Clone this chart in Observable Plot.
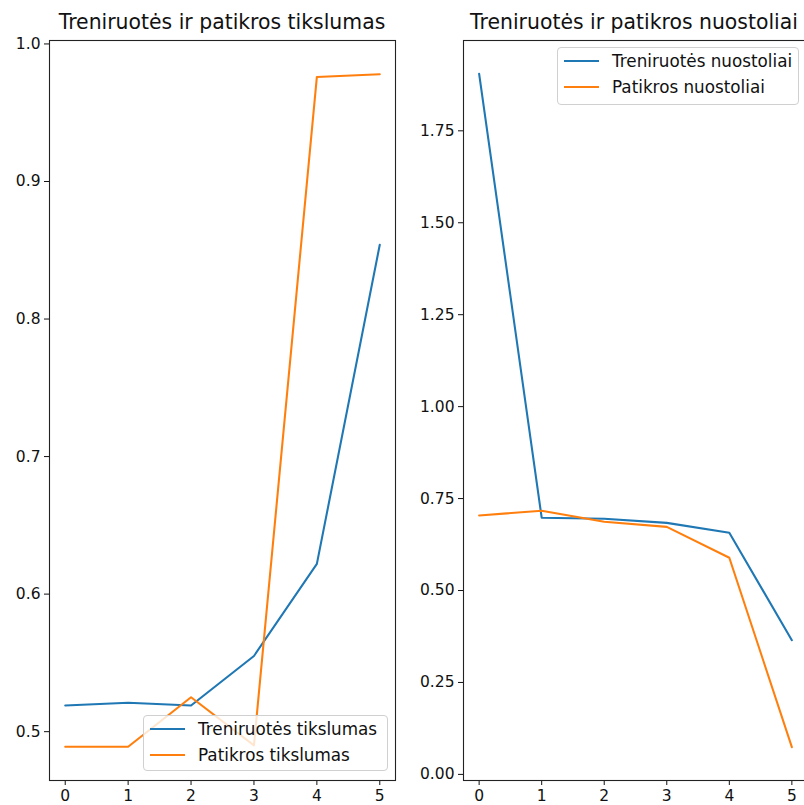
<!DOCTYPE html>
<html>
<head>
<meta charset="utf-8">
<script src="https://cdn.jsdelivr.net/npm/d3@7"></script>
<script src="https://cdn.jsdelivr.net/npm/@observablehq/plot@0.6"></script>
<style>
  html, body { margin: 0; padding: 0; background: #fff; }
  #wrap { position: relative; width: 804px; height: 805px; overflow: hidden; background: #fff; font-family: "DejaVu Sans", sans-serif; }
  .panel { position: absolute; top: 0; }
  .title { position: absolute; top: 12px; font-size: 20.4px; line-height: 1; color: #111; white-space: nowrap; transform: translateX(-50%); }
  .legend { position: absolute; background: rgba(255,255,255,0.8); border: 1px solid #d0d0d0; border-radius: 4px; box-sizing: border-box; padding: 0 0 0 6px; font-size: 16.8px; color: #111; }
  .legend .row { display: flex; align-items: center; height: 26px; white-space: nowrap; }
  .legend .sw { width: 35px; height: 2px; margin-right: 13px; }
</style>
</head>
<body>
<div id="wrap"></div>
<script>
const epochs = [0, 1, 2, 3, 4, 5];
const trainAcc = [0.519, 0.521, 0.519, 0.555, 0.622, 0.854];
const valAcc = [0.489, 0.489, 0.525, 0.490, 0.976, 0.978];
const trainLoss = [1.905, 0.698, 0.695, 0.684, 0.657, 0.365];
const valLoss = [0.704, 0.717, 0.687, 0.673, 0.589, 0.074];
const accTicks = [0.5, 0.6, 0.7, 0.8, 0.9, 1.0];
const lossTicks = [0.00, 0.25, 0.50, 0.75, 1.00, 1.25, 1.50, 1.75];
const titles = ["Treniruotės ir patikros tikslumas", "Treniruotės ir patikros nuostoliai"];
const accLabels = ["Treniruotės tikslumas", "Patikros tikslumas"];
const lossLabels = ["Treniruotės nuostoliai", "Patikros nuostoliai"];
const colors = ["#1f77b4", "#ff7f0e"];

const wrap = document.getElementById("wrap");

function panel(a, b, yDomain, yTicks, fmt, left, width) {
  const A = epochs.map((e, i) => ({x: e, y: a[i]}));
  const B = epochs.map((e, i) => ({x: e, y: b[i]}));
  const chart = Plot.plot({
    width: width,
    height: 805,
    marginTop: 40,
    marginBottom: 25,
    marginLeft: 49,
    marginRight: 9,
    style: {fontFamily: "DejaVu Sans, sans-serif", fontSize: "15.5px", background: "#fff", color: "#111", overflow: "visible"},
    x: {domain: [-0.25, 5.25], ticks: epochs, tickFormat: d3.format("d"), tickSize: 5, tickPadding: 4, label: null},
    y: {domain: yDomain, ticks: yTicks, tickFormat: d3.format(fmt), tickSize: 5, tickPadding: 4, label: null},
    marks: [
      Plot.lineY(A, {x: "x", y: "y", stroke: colors[0], strokeWidth: 2.08}),
      Plot.lineY(B, {x: "x", y: "y", stroke: colors[1], strokeWidth: 2.08}),
      Plot.frame({stroke: "#222", strokeWidth: 1.1})
    ]
  });
  chart.classList.add("panel");
  chart.style.left = left + "px";
  wrap.appendChild(chart);
}

panel(trainAcc, valAcc, [0.4645, 1.0025], accTicks, ".1f", 0, 404);
panel(trainLoss, valLoss, [-0.0166, 1.9956], lossTicks, ".2f", 414, 402);

function title(text, cx) {
  const d = document.createElement("div");
  d.className = "title";
  d.textContent = text;
  d.style.left = cx + "px";
  wrap.appendChild(d);
}
title(titles[0], 222);
title(titles[1], 634);

function legend(labels, x, y, w, h) {
  const d = document.createElement("div");
  d.className = "legend";
  d.style.left = x + "px"; d.style.top = y + "px";
  d.style.width = w + "px"; d.style.height = h + "px";
  labels.forEach((l, i) => {
    const r = document.createElement("div");
    r.className = "row";
    const s = document.createElement("div");
    s.className = "sw"; s.style.background = colors[i];
    const t = document.createElement("span");
    t.textContent = l;
    r.appendChild(s); r.appendChild(t);
    d.appendChild(r);
  });
  wrap.appendChild(d);
}
legend(accLabels, 143, 715, 245, 56);
legend(lossLabels, 557, 47, 242, 58);
</script>
</body>
</html>
